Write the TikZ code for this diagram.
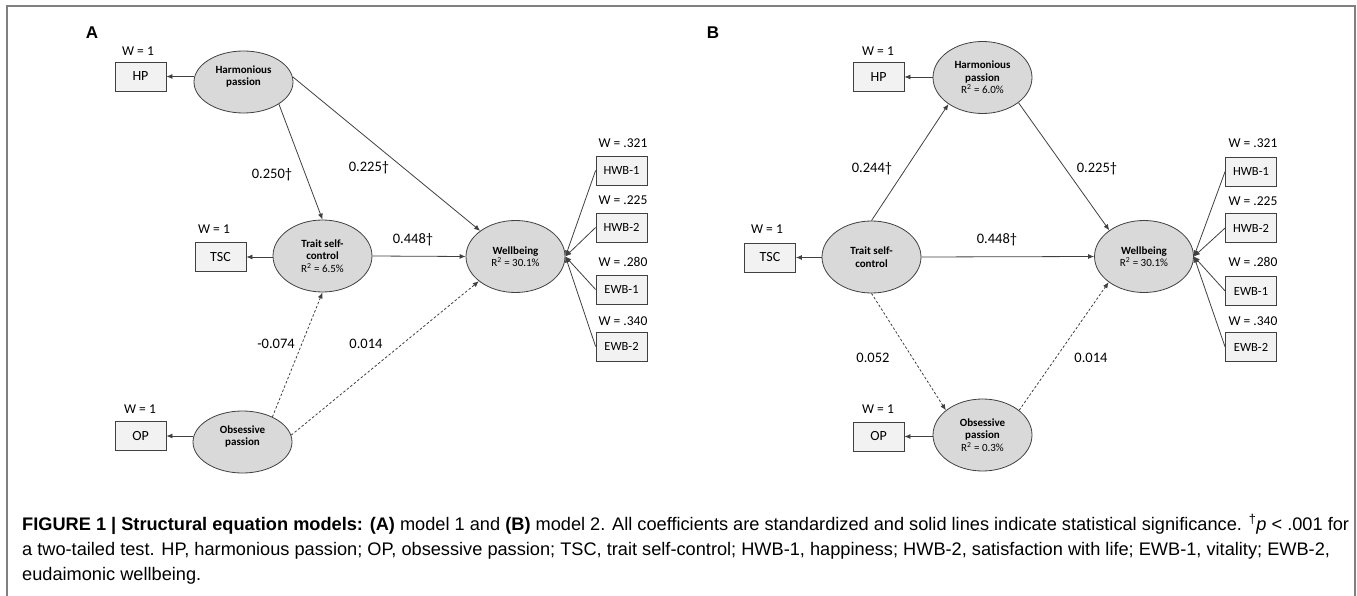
\documentclass[tikz,border=0pt]{standalone}
\usepackage{fontspec}
\setmainfont{Carlito}
\newfontfamily\capfont{Liberation Sans}
\usetikzlibrary{shapes.geometric,arrows.meta}

\definecolor{ellfill}{HTML}{D9D9D9}
\definecolor{boxfill}{HTML}{F2F2F2}
\definecolor{linegray}{HTML}{404040}
\definecolor{framegray}{HTML}{808080}

\begin{document}
\begin{tikzpicture}[x=1pt,y=-1pt,
  latent/.style={ellipse,draw=linegray,fill=ellfill,line width=.8pt,
    minimum width=99pt,minimum height=62pt,inner sep=0pt,align=center,
    font=\fontsize{11}{12.6}\selectfont},
  tall/.style={minimum height=72pt},
  ind/.style={rectangle,draw=linegray,fill=boxfill,line width=.8pt,
    minimum width=51pt,minimum height=29pt,inner sep=0pt,
    font=\fontsize{14}{16}\selectfont},
  wb/.style={ind,font=\fontsize{12.5}{14}\selectfont},
  wlab/.style={inner sep=0pt,font=\fontsize{13.5}{15}\selectfont},
  coef/.style={inner sep=0pt,font=\fontsize{14.5}{16}\selectfont},
  panel/.style={inner sep=0pt,font=\capfont\bfseries\fontsize{17}{17}\selectfont},
  sig/.style={draw=linegray,line width=.8pt,-{Latex[length=6pt,width=5pt]}},
  nonsig/.style={sig,dash pattern=on 2.5pt off 2pt},
  captext/.style={anchor=base west,inner sep=0pt,font=\capfont\fontsize{18.2}{22}\selectfont}]
\useasboundingbox (0,0) rectangle (1357,596);
% frame
\draw[framegray,line width=2pt] (7,596) -- (7,6) -- (1355,6) -- (1355,596);

% model 1
\node[panel] (labA) at (92,33) {A};
\node[latent] (hpA) at (243.5,82) {\textbf{Harmonious}\\\textbf{passion}\\~};
\node[latent,tall] (tscA) at (322.5,256) {\textbf{Trait self-}\\\textbf{control}\\R\textsuperscript{2} = 6.5\%};
\node[latent] (opA) at (242.5,442) {\textbf{Obsessive}\\\textbf{passion}\\~};
\node[latent,tall] (wellA) at (515.5,256.5) {\textbf{Wellbeing}\\R\textsuperscript{2} = 30.1\%};

\node[ind] (HPa) at (140.5,76.5) {HP};
\node[ind] (TSCa) at (220.5,257) {TSC};
\node[ind] (OPa) at (140.5,436) {OP};
\node[wb] (HWB1a) at (621.5,170.5) {HWB-1};
\node[wb] (HWB2a) at (621.5,227.5) {HWB-2};
\node[wb] (EWB1a) at (621.5,289.5) {EWB-1};
\node[wb] (EWB2a) at (621.5,346.5) {EWB-2};

\node[wlab] (wHPa) at (138,51) {W = 1};
\node[wlab] (wTSCa) at (214,229) {W = 1};
\node[wlab] (wOPa) at (140,409) {W = 1};
\node[wlab] (wHWB1a) at (623,143) {W = .321};
\node[wlab] (wHWB2a) at (623,200) {W = .225};
\node[wlab] (wEWB1a) at (623,262) {W = .280};
\node[wlab] (wEWB2a) at (623,321) {W = .340};

\draw[sig] (hpA.west |- HPa) -- (HPa);
\draw[sig] (tscA.west |- TSCa) -- (TSCa);
\draw[sig] (opA.west |- OPa) -- (OPa);
\draw[sig] (hpA.-32) -- (tscA.north);
\draw[sig] (hpA.6) -- (wellA.144);
\draw[sig] (tscA.east) -- (wellA.west);
\draw[nonsig] (opA.40) -- (tscA.south);
\draw[nonsig] (opA.8) -- (wellA.214);
\draw[sig] (HWB1a.west) -- (wellA.east);
\draw[sig] (HWB2a.west) -- (wellA.east);
\draw[sig] (EWB1a.west) -- (wellA.east);
\draw[sig] (EWB2a.west) -- (wellA.east);

\node[coef] (cA1) at (272,175) {0.250†};
\node[coef] (cA2) at (369,168) {0.225†};
\node[coef] (cA3) at (413,240) {0.448†};
\node[coef] (cA4) at (276,344) {-0.074};
\node[coef] (cA5) at (366,344) {0.014};

% model 2
\node[panel] (labB) at (713,33) {B};
\node[latent,tall] (hpB) at (982.5,77.5) {\textbf{Harmonious}\\\textbf{passion}\\R\textsuperscript{2} = 6.0\%};
\node[latent,tall] (tscB) at (871.5,257) {\textbf{Trait self-}\\\textbf{control}};
\node[latent,tall] (opB) at (982.5,435) {\textbf{Obsessive}\\\textbf{passion}\\R\textsuperscript{2} = 0.3\%};
\node[latent,tall] (wellB) at (1144,256.5) {\textbf{Wellbeing}\\R\textsuperscript{2} = 30.1\%};

\node[ind] (HPb) at (878.5,77) {HP};
\node[ind] (TSCb) at (770,257.5) {TSC};
\node[ind] (OPb) at (878.5,436.5) {OP};
\node[wb] (HWB1b) at (1251,171.5) {HWB-1};
\node[wb] (HWB2b) at (1251,228) {HWB-2};
\node[wb] (EWB1b) at (1251,291) {EWB-1};
\node[wb] (EWB2b) at (1251,347) {EWB-2};

\node[wlab] (wHPb) at (878,51) {W = 1};
\node[wlab] (wTSCb) at (767,229) {W = 1};
\node[wlab] (wOPb) at (878,409) {W = 1};
\node[wlab] (wHWB1b) at (1253,143) {W = .321};
\node[wlab] (wHWB2b) at (1253,201) {W = .225};
\node[wlab] (wEWB1b) at (1253,262) {W = .280};
\node[wlab] (wEWB2b) at (1253,321) {W = .340};

\draw[sig] (hpB.west |- HPb) -- (HPb);
\draw[sig] (tscB.west |- TSCb) -- (TSCb);
\draw[sig] (opB.west |- OPb) -- (OPb);
\draw[sig] (tscB.north) -- (hpB.218);
\draw[sig] (hpB.-35) -- (wellB.143);
\draw[sig] (tscB.east) -- (wellB.west);
\draw[nonsig] (tscB.south) -- (opB.146);
\draw[nonsig] (opB.34) -- (wellB.216);
\draw[sig] (HWB1b.west) -- (wellB.east);
\draw[sig] (HWB2b.west) -- (wellB.east);
\draw[sig] (EWB1b.west) -- (wellB.east);
\draw[sig] (EWB2b.west) -- (wellB.east);

\node[coef] (cB1) at (872,169) {0.244†};
\node[coef] (cB2) at (1097,169) {0.225†};
\node[coef] (cB3) at (997,240) {0.448†};
\node[coef] (cB4) at (873,358) {0.052};
\node[coef] (cB5) at (1091,358) {0.014};

% caption
\node[captext] (cap1) at (22,530) {\textbf{FIGURE 1 | Structural equation models: (A)} model 1 and \textbf{(B)} model 2. All coefficients are standardized and solid lines indicate statistical significance. \textsuperscript{†}\textit{p} < .001 for};
\node[captext] (cap2) at (22,555) {a two-tailed test. HP, harmonious passion; OP, obsessive passion; TSC, trait self-control; HWB-1, happiness; HWB-2, satisfaction with life; EWB-1, vitality; EWB-2,};
\node[captext] (cap3) at (22,580) {eudaimonic wellbeing.};
\end{tikzpicture}
\end{document}
